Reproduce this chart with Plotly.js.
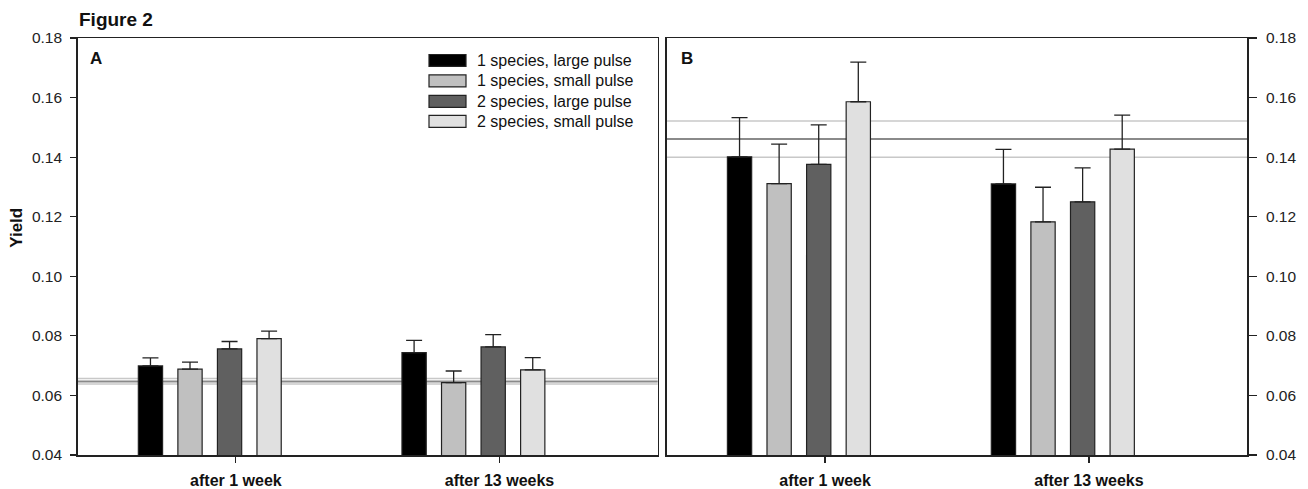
<!DOCTYPE html>
<html>
<head>
<meta charset="utf-8">
<script src="https://cdn.plot.ly/plotly-3.0.1.min.js"></script>
<style>html,body{margin:0;padding:0;background:#fff;}#chart{width:1308px;height:489px;}</style>
</head>
<body>
<div id="chart"></div>
<script>
// ---- data ----
const categories = ['after 1 week', 'after 13 weeks'];
const seriesNames = ['1 species, large pulse', '1 species, small pulse', '2 species, large pulse', '2 species, small pulse'];
const seriesColors = ['#000000', '#c0c0c0', '#606060', '#e0e0e0'];

// Panel A yields and (upper) standard errors
const yieldA_1sLarge = [0.0699, 0.0744];
const yieldA_1sSmall = [0.0688, 0.0643];
const yieldA_2sLarge = [0.0756, 0.0763];
const yieldA_2sSmall = [0.0791, 0.0686];
const errA_1sLarge = [0.0027, 0.0041];
const errA_1sSmall = [0.0024, 0.0039];
const errA_2sLarge = [0.0025, 0.0041];
const errA_2sSmall = [0.0025, 0.0041];

// Panel B yields and (upper) standard errors
const yieldB_1sLarge = [0.1401, 0.1310];
const yieldB_1sSmall = [0.1311, 0.1183];
const yieldB_2sLarge = [0.1376, 0.1250];
const yieldB_2sSmall = [0.1586, 0.1427];
const errB_1sLarge = [0.0132, 0.0116];
const errB_1sSmall = [0.0133, 0.0116];
const errB_2sLarge = [0.0132, 0.0114];
const errB_2sSmall = [0.0133, 0.0114];

// Reference lines (mean, lower, upper)
const refA = [0.0647, 0.0638, 0.0657];
const refB = [0.1461, 0.1400, 0.1521];

const yTicks = [0.04, 0.06, 0.08, 0.10, 0.12, 0.14, 0.16, 0.18];

// ---- styling / layout ----
const FONT = 'Liberation Sans, Arial, Helvetica, sans-serif';
const W = 1308, H = 489, TOP = 37.5, BOT = 455;
const px2x = p => p / W;
const py2y = p => 1 - (p - TOP) / (BOT - TOP);

const offsets = [-0.370, -0.220, -0.070, 0.080];
const barW = 0.092;

const yA = [yieldA_1sLarge, yieldA_1sSmall, yieldA_2sLarge, yieldA_2sSmall];
const eA = [errA_1sLarge, errA_1sSmall, errA_2sLarge, errA_2sSmall];
const yB = [yieldB_1sLarge, yieldB_1sSmall, yieldB_2sLarge, yieldB_2sSmall];
const eB = [errB_1sLarge, errB_1sSmall, errB_2sLarge, errB_2sSmall];

function barTrace(i, ys, es, xa, ya) {
  return {
    type: 'bar', x: categories, y: ys, name: seriesNames[i],
    xaxis: xa, yaxis: ya, showlegend: false,
    offset: offsets[i], width: barW,
    marker: {color: seriesColors[i], line: {color: '#222', width: 1.2}},
    error_y: {type: 'data', symmetric: false, array: es, arrayminus: es.map(() => 0),
              color: '#222', thickness: 1.3, width: 8}
  };
}

const traces = [];
for (let i = 0; i < 4; i++) traces.push(barTrace(i, yA[i], eA[i], 'x', 'y'));
for (let i = 0; i < 4; i++) traces.push(barTrace(i, yB[i], eB[i], 'x2', 'y2'));

function refShapes(ref, xr, yr) {
  const out = [];
  [1, 2].forEach(k => out.push({type: 'line', layer: 'below', xref: xr + ' domain', yref: yr,
    x0: 0, x1: 1, y0: ref[k], y1: ref[k], line: {color: '#c8c8c8', width: 1.5}}));
  out.push({type: 'line', layer: 'below', xref: xr + ' domain', yref: yr,
    x0: 0, x1: 1, y0: ref[0], y1: ref[0], line: {color: '#8a8a8a', width: 2}});
  return out;
}

const shapes = [...refShapes(refA, 'x', 'y'), ...refShapes(refB, 'x2', 'y2')];
const annotations = [
  {text: '<b>Figure 2</b>', xref: 'paper', yref: 'paper', x: px2x(77), y: py2y(19), xanchor: 'left', yanchor: 'middle', showarrow: false, font: {family: FONT, size: 19, color: '#111'}},
  {text: '<b>A</b>', xref: 'paper', yref: 'paper', x: px2x(95.5), y: py2y(58.5), xanchor: 'center', yanchor: 'middle', showarrow: false, font: {family: FONT, size: 17, color: '#111'}},
  {text: '<b>B</b>', xref: 'paper', yref: 'paper', x: px2x(687), y: py2y(58), xanchor: 'center', yanchor: 'middle', showarrow: false, font: {family: FONT, size: 17, color: '#111'}},
  {text: '<b>Yield</b>', xref: 'paper', yref: 'paper', x: px2x(17), y: py2y(227.5), xanchor: 'center', yanchor: 'middle', textangle: -90, showarrow: false, font: {family: FONT, size: 17, color: '#111'}}
];

// custom legend built from the series arrays
const legRows = [60, 80.5, 101, 121];
seriesNames.forEach((nm, i) => {
  shapes.push({type: 'rect', xref: 'paper', yref: 'paper', x0: px2x(429), x1: px2x(466),
    y0: py2y(legRows[i] - 6), y1: py2y(legRows[i] + 6),
    fillcolor: seriesColors[i], line: {color: '#222', width: 1.2}});
  annotations.push({text: nm, xref: 'paper', yref: 'paper', x: px2x(475), y: py2y(legRows[i]),
    xanchor: 'left', yanchor: 'middle', showarrow: false, font: {family: FONT, size: 16, color: '#111'}});
});

const xCommon = {
  type: 'category', range: [-0.6, 1.6], showline: true, mirror: true, linecolor: '#222', linewidth: 1.5,
  ticks: 'outside', ticklen: 6, tickwidth: 1.2, tickcolor: '#222', showgrid: false, zeroline: false,
  tickfont: {family: FONT, size: 16, color: '#111', weight: 'bold'}, ticklabelstandoff: 4, fixedrange: true
};
const yCommon = {
  range: [0.04, 0.18], tickvals: yTicks, tickformat: '.2f', showline: true, mirror: true,
  linecolor: '#222', linewidth: 1.5, ticks: 'outside', tickwidth: 1.2, tickcolor: '#222',
  showgrid: false, zeroline: false, tickfont: {family: FONT, size: 15.5, color: '#222'}, fixedrange: true
};

const layout = {
  width: W, height: H, margin: {l: 0, r: 0, t: TOP, b: H - BOT},
  paper_bgcolor: '#fff', plot_bgcolor: '#fff', barmode: 'overlay', showlegend: false,
  font: {family: FONT},
  xaxis: Object.assign({}, xCommon, {domain: [px2x(77.7), px2x(657.7)], anchor: 'y'}),
  xaxis2: Object.assign({}, xCommon, {domain: [px2x(666.7), px2x(1247.3)], anchor: 'y2'}),
  yaxis: Object.assign({}, yCommon, {domain: [0, 1], anchor: 'x', side: 'left', ticklen: 6, ticklabelstandoff: 5}),
  yaxis2: Object.assign({}, yCommon, {domain: [0, 1], anchor: 'x2', side: 'right', ticklen: 8, ticklabelstandoff: 6}),
  shapes: shapes, annotations: annotations
};

Plotly.newPlot('chart', traces, layout, {staticPlot: true, displayModeBar: false});
</script>
</body>
</html>
